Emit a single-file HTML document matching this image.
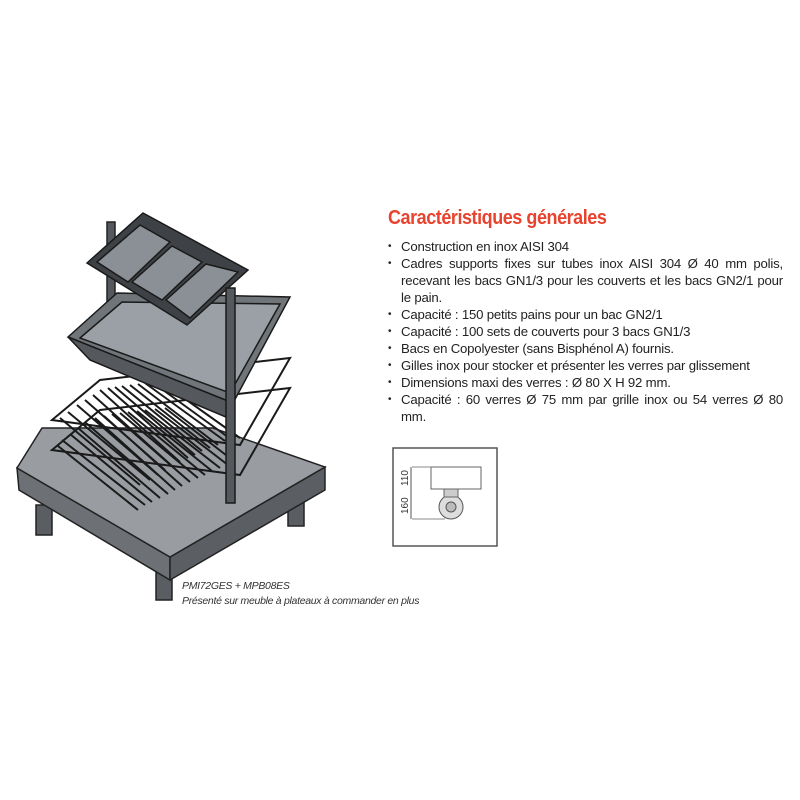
<!DOCTYPE html>
<html><head><meta charset="utf-8"><style>
body{margin:0;width:800px;height:800px;background:#fff;overflow:hidden;position:relative;font-family:"Liberation Sans",sans-serif}
#t{position:absolute;left:388px;top:207px;color:#e8432e;font-size:20px;letter-spacing:-0.5px;font-weight:bold;transform:scaleX(0.9);transform-origin:left}
ul{position:absolute;left:385px;top:238px;width:398px;margin:0;padding:0;list-style:none;font-size:13.2px;line-height:17px;color:#222;letter-spacing:-0.2px}
li{padding-left:16px;position:relative;text-align:justify}
li:before{content:"•";position:absolute;left:3px;font-size:10px}
.c{position:absolute;left:182px;font-style:italic;font-size:10.5px;color:#333;letter-spacing:-0.3px}
</style></head><body>
<div id="t">Caractéristiques générales</div>
<ul>
<li>Construction en inox AISI 304</li>
<li>Cadres supports fixes sur tubes inox AISI 304 Ø 40 mm polis, recevant les bacs GN1/3 pour les couverts et les bacs GN2/1 pour le pain.</li>
<li>Capacité : 150 petits pains pour un bac GN2/1</li>
<li>Capacité : 100 sets de couverts pour 3 bacs GN1/3</li>
<li>Bacs en Copolyester (sans Bisphénol A) fournis.</li>
<li>Gilles inox pour stocker et présenter les verres par glissement</li>
<li>Dimensions maxi des verres : Ø 80 X H 92 mm.</li>
<li style="text-align:justify;text-align-last:left">Capacité : 60 verres Ø 75 mm par grille inox ou 54 verres Ø 80 mm.</li>
</ul>
<div class="c" style="top:580px">PMI72GES + MPB08ES</div>
<div class="c" style="top:595px">Présenté sur meuble à plateaux à commander en plus</div>
<svg width="800" height="800" style="position:absolute;left:0;top:0">
<rect x="393" y="448" width="104" height="98" fill="none" stroke="#555" stroke-width="1.5"/>
<rect x="431" y="467" width="50" height="22" fill="#fff" stroke="#666"/>
<line x1="412" y1="467" x2="431" y2="467" stroke="#888"/><line x1="412" y1="519" x2="445" y2="519" stroke="#888"/>
<line x1="411" y1="467" x2="411" y2="519" stroke="#555"/>
<circle cx="451" cy="507" r="12" fill="#ddd" stroke="#555"/><circle cx="451" cy="507" r="5" fill="#bbb" stroke="#555"/>
<rect x="444" y="489" width="14" height="8" fill="#ccc" stroke="#666"/>
<text x="0" y="0" transform="translate(408,486) rotate(-90)" font-size="10" fill="#333" font-family="Liberation Sans">110</text>
<text x="0" y="0" transform="translate(408,514) rotate(-90)" font-size="10" fill="#333" font-family="Liberation Sans">160</text>
<g stroke="#222" stroke-width="1.5">
<rect x="36" y="505" width="16" height="30" fill="#5a5e62"/>
<rect x="288" y="500" width="16" height="26" fill="#5a5e62"/>
<rect x="156" y="570" width="16" height="30" fill="#5a5e62"/>
<polygon points="17,468 170,557 170,580 19,490" fill="#6d7175"/>
<polygon points="170,557 325,467 325,490 170,580" fill="#5b5f63"/>
<polygon points="17,468 42,428 213,428 325,467 170,557" fill="#999da1"/>
<rect x="107" y="222" width="8" height="80" fill="#55595d"/>
</g>
<g stroke="#1a1a1a" stroke-width="2" fill="none">
<polygon points="52,420 100,380 290,358 240,445"/>
<polygon points="52,450 100,410 290,388 240,475"/>
<path d="M60,418 L140,485 M68,412 L150,480 M77,405 L158,475 M85,400 L165,470 M93,395 L172,466 M100,390 L180,462 M108,388 L188,458 M115,387 L195,455 M122,386 L202,451 M130,385 L210,448 M138,384 L218,445 M145,383 L225,441 M152,382 L232,440 M160,381 L240,438 M58,446 L138,510 M62,440 L145,505 M70,434 L152,502 M78,428 L160,498 M86,423 L168,494 M95,418 L175,490 M104,416 L182,486 M112,414 L190,482 M120,413 L198,478 M128,412 L205,475 M137,411 L212,471 M145,410 L220,468 M155,409 L228,465 M165,408 L235,462"/>
</g>
<g stroke="#1a1a1a" stroke-width="1.5">
<polygon points="68,337 117,293 290,297 233,403" fill="#70757a"/>
<polygon points="80,338 122,302 280,304 230,393" fill="#9aa0a5"/>
<polygon points="68,337 233,403 233,420 90,360" fill="#55595d"/>
<polygon points="87,263 143,213 248,270 187,325" fill="#3e4246"/>
<polygon points="97,262 140,225 170,242 128,282" fill="#8a9095"/>
<polygon points="132,282 172,246 202,262 162,300" fill="#8a9095"/>
<polygon points="166,300 206,264 238,272 190,318" fill="#8a9095"/>
<rect x="226" y="288" width="9" height="215" fill="#55595d"/>
</g>
</svg>
</body></html>
